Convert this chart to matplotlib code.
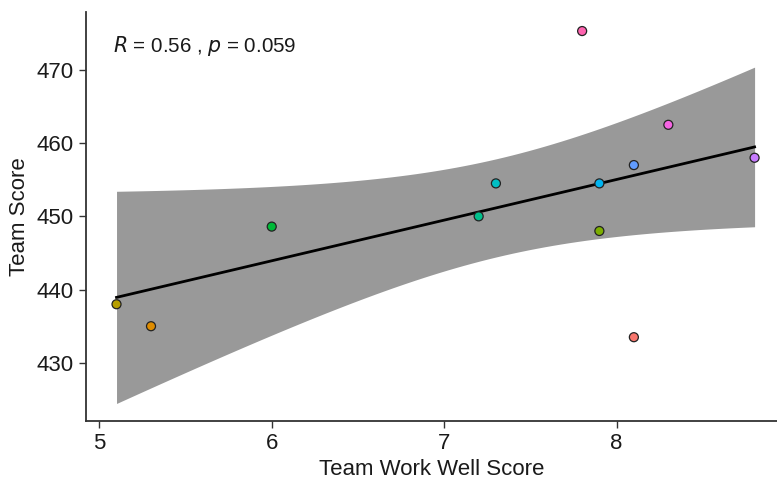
import numpy as np
import matplotlib
matplotlib.use("Agg")
import matplotlib.pyplot as plt

# Team-level scores
teams = ["T1", "T2", "T3", "T4", "T5", "T6", "T7", "T8", "T9", "T10", "T11", "T12"]
work_well = [8.1, 5.3, 5.1, 7.9, 6.0, 7.2, 7.3, 7.9, 8.1, 8.8, 8.3, 7.8]
team_score = [433.5, 435.0, 438.0, 448.0, 448.6, 450.0, 454.5, 454.5, 457.0, 458.0, 462.5, 475.3]
team_colors = ["#F8766D", "#DE8C00", "#B79F00", "#7CAE00", "#00BA38", "#00C08B",
               "#00BFC4", "#00B4F0", "#619CFF", "#C77CFF", "#F564E3", "#FF64B0"]
x_ticks = [5, 6, 7, 8]
y_ticks = [430, 440, 450, 460, 470]

plt.rcParams["font.family"] = ["Liberation Sans", "DejaVu Sans"]

x = np.array(work_well)
y = np.array(team_score)
n = len(x)

# Linear fit with 95% confidence band (t quantile, df = n - 2 = 10)
slope, intercept = np.polyfit(x, y, 1)
resid = y - (slope * x + intercept)
s = np.sqrt(np.sum(resid ** 2) / (n - 2))
t_crit = 2.228139
xs = np.linspace(x.min(), x.max(), 80)
ys = slope * xs + intercept
se = s * np.sqrt(1.0 / n + (xs - x.mean()) ** 2 / np.sum((x - x.mean()) ** 2))
r = np.corrcoef(x, y)[0, 1]

fig = plt.figure(figsize=(7.77, 4.82), dpi=100)
ax = fig.add_axes([86 / 777, 1 - 420.7 / 482, 1 - 86 / 777, (420.7 - 12) / 482])

ax.fill_between(xs, ys - t_crit * se, ys + t_crit * se, color="#999999", lw=0, zorder=1)
ax.plot(xs, ys, color="black", lw=2.0, zorder=2)
ax.scatter(x, y, s=42, c=team_colors, edgecolors="#222222", linewidths=0.9, zorder=3)

ax.text(5.08, 473.2, f"$R$ = {r:.2f} , $p$ = 0.059", fontsize=14.8, color="#1a1a1a",
        ha="left", va="center")

ax.set_xlim(4.923, 8.93)
ax.set_ylim(422.1, 477.9)
ax.set_xticks(x_ticks)
ax.set_yticks(y_ticks)
ax.tick_params(axis="both", labelsize=16, colors="#333333", labelcolor="#1a1a1a",
               length=4.8, width=1.0, direction="out", pad=4)
for side in ("top", "right"):
    ax.spines[side].set_visible(False)
for side in ("left", "bottom"):
    ax.spines[side].set_color("#333333")
    ax.spines[side].set_linewidth(1.3)

ax.set_xlabel("Team Work Well Score", fontsize=16, color="#1a1a1a", labelpad=4)
ax.set_ylabel("Team Score", fontsize=16, color="#1a1a1a", labelpad=5)

fig.savefig("out.png", dpi=100)
